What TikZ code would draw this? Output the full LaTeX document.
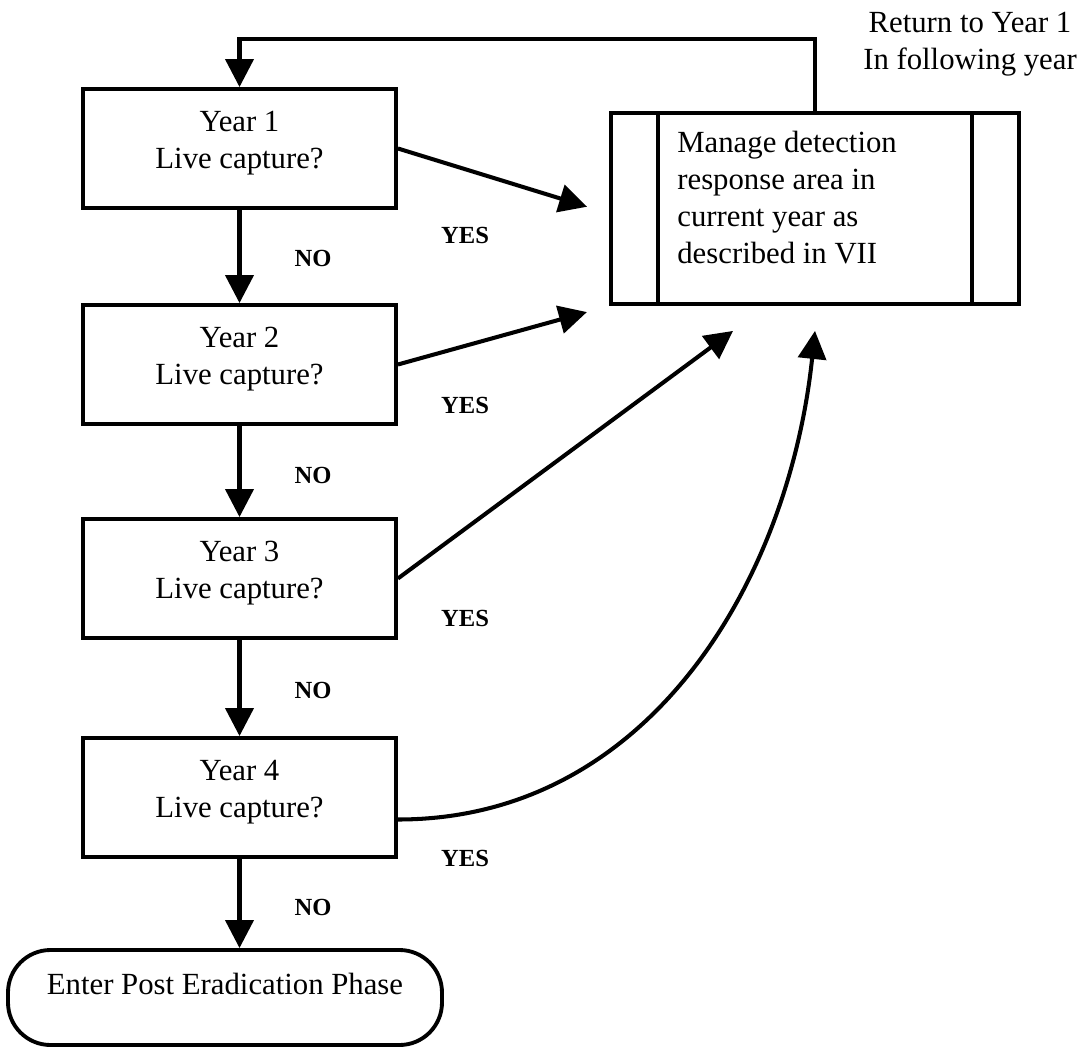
\documentclass[tikz,border=0pt]{standalone}
\usepackage{fontspec}
\setmainfont{Liberation Serif}
\usetikzlibrary{arrows.meta}

\begin{document}
\begin{tikzpicture}[
	yearbox/.style={draw, line width=2.2pt, minimum width=6.26cm, minimum height=2.38cm, align=center, text depth=0.36cm, font=\fontsize{17.5}{21}\selectfont},
	lbl/.style={font=\fontsize{14}{17}\selectfont\bfseries},
	arr/.style={line width=2.3pt, -{Triangle[length=0.56cm,width=0.56cm]}}
	]
	\useasboundingbox (0,0) rectangle (21.8,-20.96);
	\node[yearbox] (y1) at (4.79,-2.97) {Year 1\\Live capture?};
	\node[yearbox] (y2) at (4.79,-7.29) {Year 2\\Live capture?};
	\node[yearbox] (y3) at (4.79,-11.57) {Year 3\\Live capture?};
	\node[yearbox] (y4) at (4.79,-15.95) {Year 4\\Live capture?};
	\node[draw, line width=2.2pt, rounded corners=0.85cm, minimum width=8.68cm, minimum height=1.9cm, text depth=0.55cm, font=\fontsize{17.5}{21}\selectfont] (term) at (4.5,-19.95) {Enter Post Eradication Phase};
	\node[draw, line width=2.2pt, minimum width=8.16cm, minimum height=3.82cm] (mng) at (16.3,-4.17) {};
	\draw[line width=1.8pt] ([xshift=0.98cm]mng.north west) -- ([xshift=0.98cm]mng.south west);
	\draw[line width=1.8pt] ([xshift=-0.98cm]mng.north east) -- ([xshift=-0.98cm]mng.south east);
	\node[anchor=north west, inner sep=0, align=left, font=\fontsize{17.5}{21}\selectfont] (mtxt) at (13.54,-2.62) {Manage detection\\response area in\\current year as\\described in VII};
	\node[align=center, font=\fontsize{17.5}{21}\selectfont] (ret) at (19.4,-0.88) {Return to Year 1\\ In following year};
	\draw[arr] (mng.north) |- ([yshift=0.96cm]y1.north) -- (y1.north);
	% NO branch
	\draw[arr] (y1) -- (y2);
	\draw[arr] (y2) -- (y3);
	\draw[arr] (y3) -- (y4);
	\draw[arr] (y4.south) -- (y4.south |- term.north);
	\node[lbl] (no1) at (6.26,-5.16) {NO};
	\node[lbl] (no2) at (6.26,-9.5) {NO};
	\node[lbl] (no3) at (6.26,-13.8) {NO};
	\node[lbl] (no4) at (6.26,-18.14) {NO};
	% YES branch
	\coordinate (in3) at ([xshift=-1.64cm,yshift=-0.5cm]mng.south);
	\coordinate (in4) at ([yshift=-0.5cm]mng.south);
	\draw[arr, shorten >=0.46cm] (y1.east) -- ([yshift=-0.1cm]mng.west);
	\draw[arr, shorten >=0.46cm] (y2.east) -- (mng.south west);
	\draw[arr] (y3.east) -- (in3);
	\draw[arr] ([yshift=-0.44cm]y4.east) to[out=0,in=-96] (in4);
	\node[lbl] (yes1) at (9.3,-4.7) {YES};
	\node[lbl] (yes2) at (9.3,-8.1) {YES};
	\node[lbl] (yes3) at (9.3,-12.36) {YES};
	\node[lbl] (yes4) at (9.3,-17.16) {YES};
\end{tikzpicture}
\end{document}
